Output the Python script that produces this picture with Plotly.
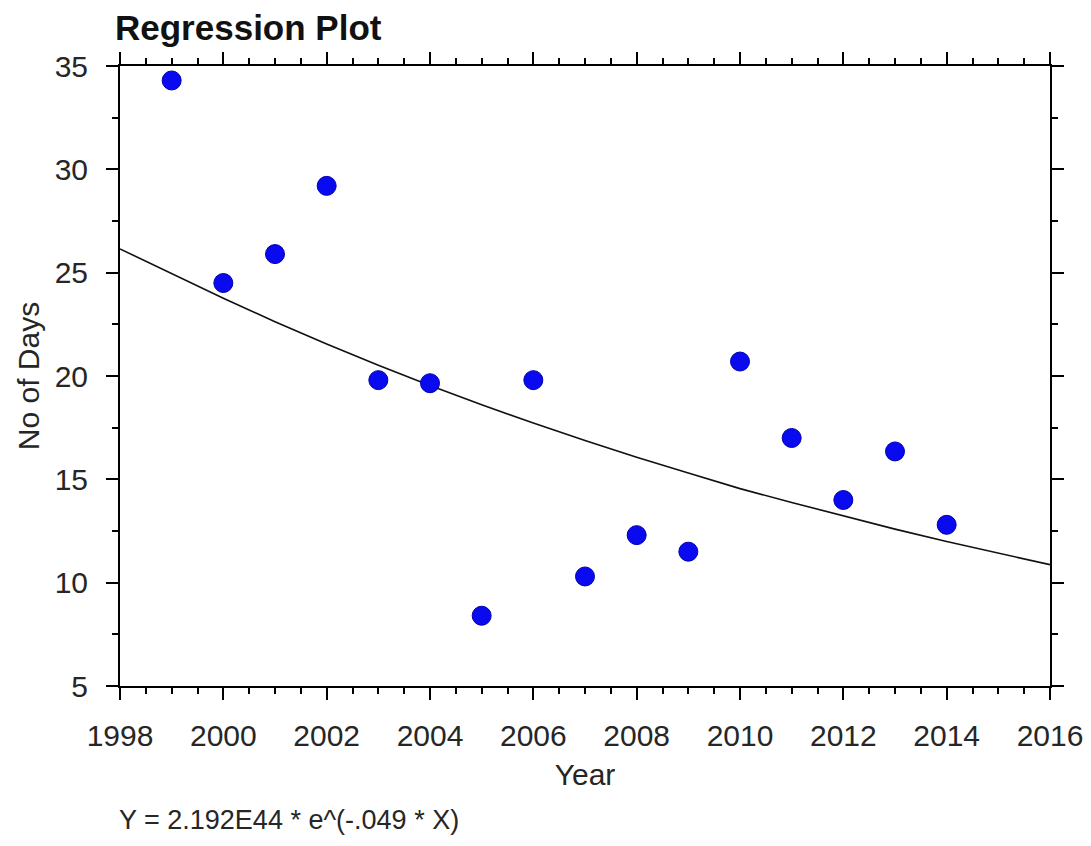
import plotly.graph_objects as go

# observed values
years = [1999, 2000, 2001, 2002, 2003, 2004, 2005, 2006, 2007,
         2008, 2009, 2010, 2011, 2012, 2013, 2014]
days = [34.3, 24.5, 25.9, 29.2, 19.8, 19.65, 8.4, 19.8, 10.3,
        12.3, 11.5, 20.7, 17.0, 14.0, 16.35, 12.8]

# fitted regression curve at each year
fit_years = list(range(1998, 2017))
fit_days = [26.15, 24.95, 23.76, 22.63, 21.55, 20.52, 19.54, 18.61, 17.72, 16.88,
            16.07, 15.31, 14.55, 13.88, 13.22, 12.59, 11.99, 11.42, 10.87]

FONT = "Liberation Sans, Arial, sans-serif"
TXT = "#262626"

fig = go.Figure()
fig.add_trace(go.Scatter(
    x=fit_years, y=fit_days, mode="lines",
    line=dict(color="#111111", width=1.6),
    hoverinfo="skip",
))
fig.add_trace(go.Scatter(
    x=years, y=days, mode="markers",
    marker=dict(color="#0a0af0", size=19, line=dict(color="#0000b0", width=1)),
))

axis_common = dict(
    showline=True, linecolor="black", linewidth=2, mirror="ticks",
    ticks="outside", tickcolor="black", tickwidth=2, ticklen=12,
    showgrid=False, zeroline=False, ticklabeloverflow="allow", automargin=False,
    tickfont=dict(family=FONT, size=30, color=TXT),
)

fig.update_xaxes(
    range=[1998, 2016], tick0=1998, dtick=2,
    minor=dict(dtick=0.5, ticks="outside", ticklen=6, tickwidth=2, tickcolor="black"),
    ticklabelstandoff=10,
    title=dict(text="Year", font=dict(family=FONT, size=30, color=TXT), standoff=13),
    **axis_common,
)
fig.update_yaxes(
    range=[5, 35], tick0=5, dtick=5,
    minor=dict(dtick=2.5, ticks="outside", ticklen=6, tickwidth=2, tickcolor="black"),
    ticklabelstandoff=12,
    title=dict(text="No of Days", font=dict(family=FONT, size=30, color=TXT), standoff=6),
    **axis_common,
)

fig.add_annotation(
    text="Y = 2.192E44 * e^(-.049 * X)",
    xref="paper", yref="paper", x=-0.003, y=-0.216,
    xanchor="left", yanchor="middle", showarrow=False,
    font=dict(family=FONT, size=27, color=TXT),
)

W, H = 1075, 830
fig.update_layout(
    width=W, height=H,
    title=dict(text="<b>Regression Plot</b>", xref="container", yref="container",
               x=107 / W, y=1 - 20 / H, xanchor="left", yanchor="middle",
               font=dict(family=FONT, size=35, color="#111111")),
    paper_bgcolor="white", plot_bgcolor="white",
    margin=dict(l=112, r=W - 112 - 930, t=58, b=H - 58 - 620),
    showlegend=False,
)

fig.write_html("out.html")
